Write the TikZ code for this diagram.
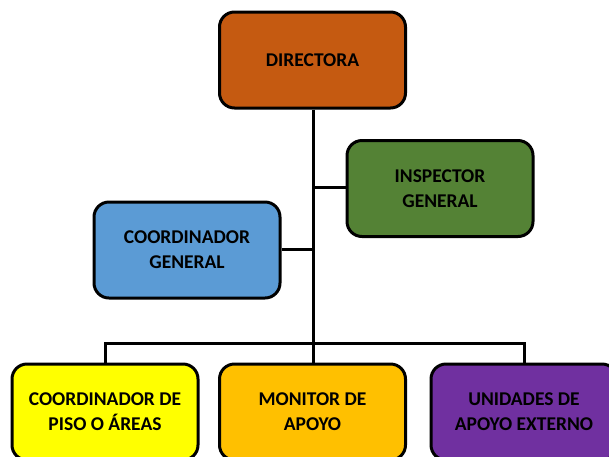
\documentclass[tikz,border=0pt]{standalone}
\usepackage{fontspec}
\setmainfont{Carlito}
\begin{document}
\begin{tikzpicture}[x=1pt,y=-1pt,
  box/.style={draw=black,line width=3pt,rounded corners=15pt,minimum width=186pt,minimum height=96pt,
    align=center,font=\fontsize{19.5pt}{25pt}\selectfont\bfseries,inner sep=0pt},
  conn/.style={draw=black,line width=3pt}]
\useasboundingbox (0,0) rectangle (609,456);
\clip (0,0) rectangle (609,456);
\node[box,fill={rgb,255:red,197;green,90;blue,17}] (dir) at (312.5,60) {DIRECTORA};
\node[box,fill={rgb,255:red,84;green,130;blue,53}] (insp) at (440,188.5) {INSPECTOR\\GENERAL};
\node[box,fill={rgb,255:red,91;green,155;blue,213}] (coord) at (187,250) {COORDINADOR\\GENERAL};
\node[box,fill={rgb,255:red,255;green,255;blue,0}] (piso) at (105,412) {COORDINADOR DE\\PISO O ÁREAS};
\node[box,fill={rgb,255:red,255;green,192;blue,0}] (mon) at (312.5,412) {MONITOR DE\\APOYO};
\node[box,fill={rgb,255:red,112;green,48;blue,160}] (uni) at (524,412) {UNIDADES DE\\APOYO EXTERNO};
\coordinate (bus) at (313,343);
\coordinate (ji) at (313,187);
\coordinate (jc) at (313,249);
\coordinate (bl) at (105,343);
\coordinate (br) at (524,343);
\draw[conn] (dir.south -| bus) -- (bus);
\draw[conn] (ji) -- (ji -| insp.west);
\draw[conn] (jc) -- (jc -| coord.east);
\draw[conn] (piso.north) -- (bl) -- (br) -- (uni.north);
\draw[conn] (bus) -- (mon.north -| bus);
\end{tikzpicture}
\end{document}
